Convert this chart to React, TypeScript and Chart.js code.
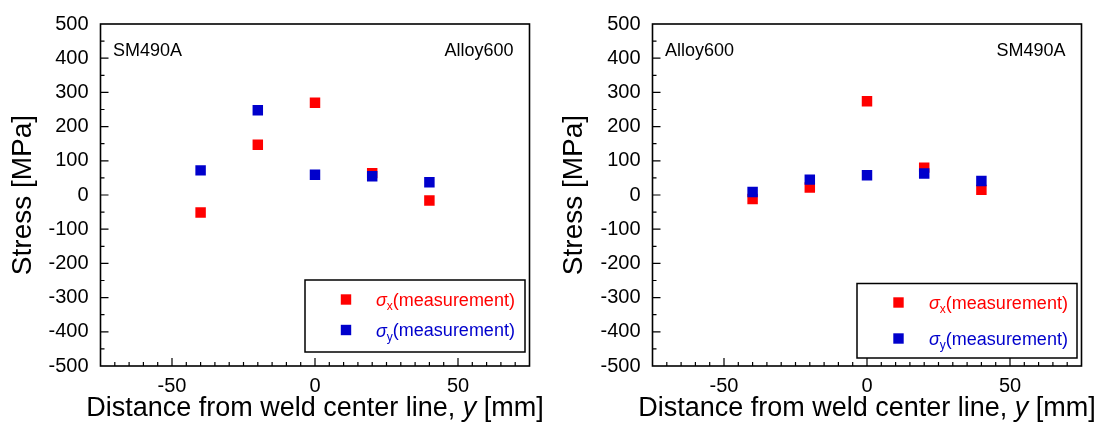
import React, { useEffect, useRef } from 'react';
import { Chart, registerables } from 'chart.js';

Chart.register(...registerables);

const FONT = '"Liberation Sans", Arial, Helvetica, sans-serif';

// ---- data ----
const positions = [-40, -20, 0, 20, 40];
const leftSigmaX = [-51, 147, 270, 64, -16];
const leftSigmaY = [72, 248, 59, 55, 37];
const rightSigmaX = [-12, 22, 274, 80, 15];
const rightSigmaY = [9, 45, 58, 63, 41];
const leftCorners = ['SM490A', 'Alloy600'];
const rightCorners = ['Alloy600', 'SM490A'];
const xMajorTicks = [-50, 0, 50];
const seriesColors = ['#ff0000', '#0000cc'];
const seriesSymbols = ['σ', 'σ'];
const seriesSubscripts = ['x', 'y'];
const seriesSuffix = '(measurement)';
const xTitleParts = ['Distance from weld center line, ', 'y', ' [mm]'];
const yTitleText = 'Stress [MPa]';

const framePlugin = {
  id: 'frame',
  afterDraw(chart: any, _args: any, opts: any) {
    const { ctx, chartArea: a, scales } = chart;
    const xs = scales.x;
    const ys = scales.y;
    ctx.save();
    ctx.strokeStyle = '#000';
    // inward ticks
    ctx.lineWidth = 1.2;
    ctx.beginPath();
    for (let v = xs.min + 5; v < xs.max; v += 5) {
      const px = xs.getPixelForValue(v);
      const len = v % 50 === 0 ? 8 : 4;
      ctx.moveTo(px, a.bottom);
      ctx.lineTo(px, a.bottom - len);
    }
    for (let v = ys.min + 50; v < ys.max; v += 50) {
      const py = ys.getPixelForValue(v);
      const len = v % 100 === 0 ? 8 : 4;
      ctx.moveTo(a.left, py);
      ctx.lineTo(a.left + len, py);
    }
    ctx.stroke();
    // frame
    ctx.lineWidth = 1.6;
    ctx.strokeRect(a.left, a.top, a.right - a.left, a.bottom - a.top);

    // corner labels
    ctx.fillStyle = '#000';
    ctx.font = `18px ${FONT}`;
    ctx.textBaseline = 'alphabetic';
    ctx.textAlign = 'left';
    ctx.fillText(opts.corners[0], a.left + 12.5, a.top + 32);
    ctx.textAlign = 'right';
    ctx.fillText(opts.corners[1], a.right - 16, a.top + 32);

    // legend box
    const lg = opts.legend;
    const bx = a.right - lg.right - lg.w;
    const by = a.bottom - lg.bottom - lg.h;
    ctx.lineWidth = 1.5;
    ctx.strokeRect(bx, by, lg.w, lg.h);
    chart.data.datasets.forEach((ds: any, i: number) => {
      const ry = by + lg.rows[i];
      ctx.fillStyle = ds.backgroundColor;
      ctx.fillRect(bx + lg.markerX - 5.2, ry - 5.2, 10.4, 10.4);
      let tx = bx + lg.textX;
      ctx.textAlign = 'left';
      ctx.textBaseline = 'middle';
      ctx.font = `italic 18px ${FONT}`;
      ctx.fillText(seriesSymbols[i], tx, ry + 1.5);
      tx += ctx.measureText(seriesSymbols[i]).width;
      ctx.font = `12px ${FONT}`;
      ctx.fillText(seriesSubscripts[i], tx, ry + 7.5);
      tx += ctx.measureText(seriesSubscripts[i]).width;
      ctx.font = `18px ${FONT}`;
      ctx.fillText(seriesSuffix, tx, ry + 1.5);
    });

    // x title with italic y
    const fonts = [`27px ${FONT}`, `italic 27px ${FONT}`, `27px ${FONT}`];
    let total = 0;
    const widths = xTitleParts.map((p, i) => {
      ctx.font = fonts[i];
      const w = ctx.measureText(p).width;
      total += w;
      return w;
    });
    let x = (a.left + a.right) / 2 - total / 2;
    ctx.fillStyle = '#000';
    ctx.textAlign = 'left';
    ctx.textBaseline = 'alphabetic';
    xTitleParts.forEach((p, i) => {
      ctx.font = fonts[i];
      ctx.fillText(p, x, a.bottom + 50);
      x += widths[i];
    });
    ctx.restore();
  },
};

function makeConfig(sx: number[], sy: number[], corners: string[], geom: any): any {
  return {
    type: 'scatter',
    data: {
      datasets: [
        {
          label: `${seriesSymbols[0]}${seriesSubscripts[0]}${seriesSuffix}`,
          data: positions.map((x, i) => ({ x, y: sx[i] })),
          backgroundColor: seriesColors[0],
          borderWidth: 0,
          pointStyle: 'rect',
          pointRadius: 7.4,
          pointHoverRadius: 7.4,
          order: 1,
        },
        {
          label: `${seriesSymbols[1]}${seriesSubscripts[1]}${seriesSuffix}`,
          data: positions.map((x, i) => ({ x, y: sy[i] })),
          backgroundColor: seriesColors[1],
          borderWidth: 0,
          pointStyle: 'rect',
          pointRadius: 7.4,
          pointHoverRadius: 7.4,
          order: 0,
        },
      ],
    },
    options: {
      responsive: false,
      animation: false,
      events: [],
      layout: { padding: { left: 0, right: geom.padRight, top: 23, bottom: 0 } },
      plugins: {
        legend: { display: false },
        tooltip: { enabled: false },
        frame: { corners, legend: geom.legend },
      },
      scales: {
        x: {
          type: 'linear',
          min: -75,
          max: 75,
          grid: { display: false, drawTicks: false },
          border: { display: false },
          ticks: {
            padding: 8,
            color: '#000',
            font: { size: 20, family: FONT },
            maxRotation: 0,
            autoSkip: false,
          },
          afterBuildTicks: (s: any) => {
            s.ticks = xMajorTicks.map((v) => ({ value: v }));
          },
          afterFit: (s: any) => {
            s.height = 61;
          },
        },
        y: {
          type: 'linear',
          min: -500,
          max: 500,
          grid: { display: false, drawTicks: false },
          border: { display: false },
          ticks: {
            stepSize: 100,
            padding: 12,
            color: '#000',
            font: { size: 20, family: FONT },
          },
          title: {
            display: true,
            text: yTitleText,
            color: '#000',
            font: { size: 28, family: FONT },
            padding: { top: geom.yTitlePad, bottom: 0 },
          },
          afterFit: (s: any) => {
            s.width = geom.yWidth;
          },
        },
      },
    },
    plugins: [framePlugin],
  };
}

export default function App() {
  const leftRef = useRef<HTMLCanvasElement>(null);
  const rightRef = useRef<HTMLCanvasElement>(null);

  useEffect(() => {
    const c1 = new Chart(
      leftRef.current as HTMLCanvasElement,
      makeConfig(leftSigmaX, leftSigmaY, leftCorners, {
        yWidth: 100.5,
        padRight: 30.5,
        yTitlePad: 6,
        legend: { w: 220, h: 72, right: 4.5, bottom: 14, markerX: 41, textX: 71, rows: [19.5, 50] },
      })
    );
    const c2 = new Chart(
      rightRef.current as HTMLCanvasElement,
      makeConfig(rightSigmaX, rightSigmaY, rightCorners, {
        yWidth: 112.5,
        padRight: 17.5,
        yTitlePad: 17.5,
        legend: { w: 220, h: 74.5, right: 4.5, bottom: 8, markerX: 41.5, textX: 72, rows: [19, 55] },
      })
    );
    return () => {
      c1.destroy();
      c2.destroy();
    };
  }, []);

  return (
    <div
      style={{
        position: 'absolute',
        left: 0,
        top: 0,
        width: 1099,
        height: 427,
        background: '#fff',
        overflow: 'hidden',
      }}
    >
      <canvas
        ref={leftRef}
        width={560}
        height={427}
        style={{ position: 'absolute', left: 0, top: 0, width: 560, height: 427 }}
      />
      <canvas
        ref={rightRef}
        width={559}
        height={427}
        style={{ position: 'absolute', left: 540, top: 0, width: 559, height: 427 }}
      />
    </div>
  );
}
